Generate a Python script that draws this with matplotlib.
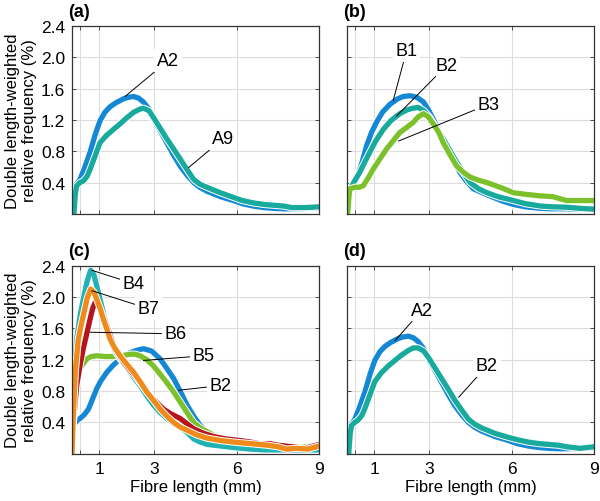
import numpy as np
import matplotlib
matplotlib.use('Agg')
import matplotlib.pyplot as plt
import matplotlib.patheffects as pe

plt.rcParams['font.family'] = ['Liberation Sans', 'DejaVu Sans']

# ---- data (fibre length in mm, frequency in %) ----
a2_x = [0.0, 0.08, 0.17, 0.29, 0.45, 0.66, 0.85, 1.02, 1.2, 1.39, 1.6, 1.87, 2.05, 2.24, 2.42, 2.6, 2.8, 2.97, 3.2, 3.45, 3.7, 3.94, 4.2, 4.43, 4.65, 4.91, 5.4, 5.88, 6.2, 6.6, 7.0, 7.34, 7.7, 8.0, 8.5, 9.0]
a2_y = [0.0, 0.30, 0.38, 0.44, 0.58, 0.79, 1.02, 1.19, 1.30, 1.37, 1.42, 1.47, 1.49, 1.50, 1.48, 1.43, 1.34, 1.21, 1.07, 0.91, 0.75, 0.61, 0.49, 0.40, 0.34, 0.29, 0.22, 0.17, 0.13, 0.10, 0.08, 0.07, 0.065, 0.065, 0.07, 0.08]
a9_x = [0.07, 0.12, 0.17, 0.29, 0.41, 0.55, 0.66, 0.85, 1.02, 1.25, 1.51, 1.75, 2.0, 2.25, 2.48, 2.6, 2.8, 2.97, 3.2, 3.45, 3.7, 3.94, 4.2, 4.43, 4.65, 4.91, 5.4, 5.88, 6.2, 6.6, 7.0, 7.34, 7.7, 8.0, 8.5, 9.0]
a9_y = [0.0, 0.25, 0.36, 0.40, 0.42, 0.48, 0.57, 0.75, 0.91, 1.00, 1.08, 1.15, 1.23, 1.30, 1.34, 1.35, 1.32, 1.23, 1.10, 0.96, 0.83, 0.70, 0.56, 0.44, 0.38, 0.34, 0.27, 0.21, 0.17, 0.14, 0.12, 0.11, 0.10, 0.08, 0.08, 0.09]

b1_x = [0.05, 0.11, 0.2, 0.35, 0.55, 0.72, 0.9, 1.08, 1.3, 1.57, 1.85, 2.05, 2.3, 2.55, 2.79, 2.97, 3.15, 3.4, 3.64, 3.9, 4.12, 4.35, 4.61, 5.0, 5.34, 5.7, 6.07, 6.5, 7.05, 7.5, 8.0, 8.5, 9.0]
b1_y = [0.0, 0.27, 0.34, 0.44, 0.65, 0.87, 1.04, 1.17, 1.30, 1.40, 1.47, 1.50, 1.51, 1.49, 1.43, 1.33, 1.21, 1.02, 0.83, 0.67, 0.53, 0.42, 0.32, 0.26, 0.21, 0.16, 0.12, 0.09, 0.07, 0.065, 0.065, 0.06, 0.055]
b2_x = [0.05, 0.11, 0.25, 0.47, 0.65, 0.84, 1.05, 1.33, 1.6, 1.93, 2.2, 2.4, 2.6, 2.8, 3.03, 3.25, 3.51, 3.75, 4.0, 4.25, 4.49, 4.8, 5.1, 5.5, 6.07, 6.5, 7.05, 7.5, 8.0, 8.5, 9.0]
b2_y = [0.0, 0.31, 0.40, 0.53, 0.66, 0.79, 0.93, 1.08, 1.19, 1.28, 1.33, 1.35, 1.36, 1.32, 1.23, 1.10, 0.96, 0.81, 0.66, 0.52, 0.40, 0.32, 0.27, 0.22, 0.17, 0.13, 0.10, 0.09, 0.085, 0.07, 0.06]
b3_x = [0.03, 0.08, 0.11, 0.29, 0.45, 0.6, 0.78, 0.96, 1.2, 1.45, 1.7, 1.93, 2.2, 2.42, 2.6, 2.79, 2.97, 3.15, 3.35, 3.51, 3.75, 4.0, 4.25, 4.49, 4.8, 5.1, 5.58, 6.07, 6.5, 7.04, 7.5, 8.0, 8.5, 9.0]
b3_y = [0.0, 0.22, 0.32, 0.34, 0.34, 0.36, 0.46, 0.57, 0.70, 0.83, 0.94, 1.04, 1.11, 1.17, 1.24, 1.28, 1.24, 1.15, 1.04, 0.91, 0.76, 0.61, 0.53, 0.47, 0.43, 0.40, 0.34, 0.27, 0.25, 0.23, 0.22, 0.17, 0.17, 0.17]

c2_x = [0.0, 0.05, 0.17, 0.29, 0.45, 0.6, 0.75, 0.9, 1.05, 1.27, 1.5, 1.75, 2.05, 2.36, 2.6, 2.9, 3.21, 3.45, 3.7, 3.95, 4.19, 4.43, 4.67, 4.9, 5.16, 5.5, 5.89, 6.4, 6.86, 7.3, 7.8, 8.4, 9.0]
c2_y = [0.0, 0.36, 0.42, 0.45, 0.50, 0.57, 0.70, 0.83, 0.93, 1.04, 1.13, 1.21, 1.28, 1.32, 1.34, 1.31, 1.21, 1.09, 0.96, 0.79, 0.62, 0.48, 0.36, 0.28, 0.23, 0.20, 0.17, 0.15, 0.13, 0.11, 0.09, 0.08, 0.08]
c5_x = [0.0, 0.05, 0.1, 0.17, 0.35, 0.54, 0.7, 0.9, 1.2, 1.51, 1.8, 2.12, 2.3, 2.48, 2.72, 2.97, 3.2, 3.45, 3.7, 3.94, 4.2, 4.43, 4.67, 4.92, 5.25, 5.64, 6.1, 6.6, 7.0, 7.3, 7.8, 8.4, 9.0]
c5_y = [0.0, 0.5, 0.85, 1.0, 1.12, 1.21, 1.24, 1.25, 1.24, 1.24, 1.25, 1.27, 1.27, 1.25, 1.20, 1.12, 1.02, 0.91, 0.79, 0.66, 0.52, 0.40, 0.33, 0.28, 0.22, 0.17, 0.15, 0.13, 0.11, 0.09, 0.09, 0.09, 0.10]
c4_x = [0.0, 0.05, 0.17, 0.29, 0.41, 0.55, 0.68, 0.8, 0.9, 1.02, 1.14, 1.27, 1.39, 1.55, 1.75, 1.95, 2.12, 2.3, 2.48, 2.72, 2.97, 3.2, 3.45, 3.7, 3.94, 4.2, 4.43, 4.67, 4.92, 5.4, 5.88, 6.5, 7.0, 8.0, 9.0]
c4_y = [0.0, 0.7, 1.46, 1.75, 1.97, 2.20, 2.34, 2.28, 2.14, 1.97, 1.80, 1.63, 1.46, 1.32, 1.21, 1.12, 1.04, 0.95, 0.87, 0.74, 0.62, 0.53, 0.45, 0.39, 0.34, 0.27, 0.19, 0.15, 0.12, 0.10, 0.08, 0.06, 0.05, 0.05, 0.05]
c6_x = [0.0, 0.05, 0.17, 0.29, 0.41, 0.55, 0.66, 0.75, 0.84, 0.92, 1.02, 1.14, 1.27, 1.39, 1.51, 1.7, 1.87, 2.1, 2.36, 2.6, 2.85, 3.1, 3.33, 3.6, 3.94, 4.2, 4.43, 4.8, 5.16, 5.6, 6.1, 6.5, 6.8, 7.2, 7.5, 8.0, 8.5, 9.0]
c6_y = [0.0, 0.4, 0.87, 1.12, 1.34, 1.55, 1.72, 1.85, 1.93, 1.92, 1.85, 1.75, 1.63, 1.51, 1.38, 1.27, 1.17, 1.07, 0.96, 0.85, 0.74, 0.65, 0.57, 0.51, 0.45, 0.38, 0.32, 0.26, 0.22, 0.19, 0.17, 0.15, 0.13, 0.13, 0.11, 0.09, 0.07, 0.12]
c7_x = [0.0, 0.05, 0.12, 0.23, 0.32, 0.41, 0.55, 0.68, 0.8, 0.9, 1.02, 1.14, 1.27, 1.39, 1.55, 1.75, 2.0, 2.24, 2.48, 2.72, 2.97, 3.21, 3.45, 3.7, 3.94, 4.19, 4.55, 4.92, 5.4, 5.88, 6.5, 7.1, 7.5, 7.8, 8.2, 8.6, 9.0]
c7_y = [0.0, 0.5, 1.05, 1.46, 1.62, 1.76, 1.98, 2.10, 2.06, 1.97, 1.86, 1.72, 1.59, 1.46, 1.35, 1.25, 1.14, 1.04, 0.92, 0.79, 0.68, 0.57, 0.48, 0.40, 0.34, 0.30, 0.24, 0.20, 0.17, 0.15, 0.13, 0.11, 0.09, 0.06, 0.07, 0.06, 0.10]

d_a2_x = a2_x
d_a2_y = a2_y
d_b2_x = [0.07, 0.12, 0.17, 0.29, 0.41, 0.55, 0.66, 0.85, 1.02, 1.25, 1.51, 1.75, 2.0, 2.25, 2.42, 2.6, 2.8, 2.97, 3.2, 3.45, 3.7, 3.94, 4.2, 4.43, 4.65, 4.91, 5.4, 5.88, 6.2, 6.6, 7.0, 7.34, 7.7, 8.0, 8.5, 9.0]
d_b2_y = [0.0, 0.25, 0.36, 0.40, 0.43, 0.49, 0.58, 0.76, 0.92, 1.03, 1.12, 1.19, 1.26, 1.32, 1.35, 1.35, 1.31, 1.23, 1.10, 0.96, 0.82, 0.68, 0.55, 0.44, 0.38, 0.33, 0.26, 0.21, 0.18, 0.15, 0.13, 0.12, 0.11, 0.09, 0.07, 0.09]

x_ticks = [0.3, 1, 3, 6, 9]
x_ticklabels = ['', '1', '3', '6', '9']
y_ticks = [0.4, 0.8, 1.2, 1.6, 2.0, 2.4]
y_ticklabels = ['0.4', '0.8', '1.2', '1.6', '2.0', '2.4']

BLUE = '#1488d4'
TEAL = '#18aa9c'
CYAN = '#22b2b4'
GREEN = '#7cc12b'
RED = '#b5151b'
ORANGE = '#ef8a1c'

fig = plt.figure(figsize=(6, 5.02), dpi=100)
axw, axh = 0.412, 0.374
positions = {'a': [0.12, 0.572, axw, axh], 'b': [0.578, 0.572, axw, axh],
             'c': [0.12, 0.094, axw, 0.375], 'd': [0.578, 0.094, axw, 0.375]}

fx = pe.Stroke(linewidth=5.2, foreground='white')


def setup(ax, label, left, bottom):
    ax.set_xlim(0, 9)
    ax.set_ylim(0, 2.4)
    ax.set_xticks(x_ticks)
    ax.set_yticks(y_ticks)
    ax.set_xticklabels(x_ticklabels if bottom else [''] * 5)
    ax.set_yticklabels(y_ticklabels if left else [''] * 6)
    ax.tick_params(direction='in', top=True, right=True, length=3, width=0.6,
                   labelsize=12.5, color='#333333', pad=5)
    ax.grid(True, color='#dcdcdc', linewidth=0.8)
    ax.set_axisbelow(True)
    for s in ax.spines.values():
        s.set_color('#333333')
        s.set_linewidth(0.9)
    ax.text(-0.015, 1.035, '(' + label + ')', transform=ax.transAxes,
            fontsize=13, fontweight='bold', ha='left', va='bottom')
    if left:
        ax.set_ylabel('Double length-weighted\nrelative frequency (%)', fontsize=12,
                      labelpad=3, linespacing=1.15)
    if bottom:
        ax.set_xlabel('Fibre length (mm)', fontsize=12, labelpad=2)


def curve(ax, x, y, c):
    ax.plot(x, y, color=c, lw=3.8, solid_capstyle='round', solid_joinstyle='round',
            path_effects=[fx, pe.Normal()])


def tag(ax, txt, xy, xytext):
    ax.annotate(txt, xy=xy, xytext=xytext, fontsize=13, ha='center', va='center',
                bbox=dict(boxstyle='square,pad=0.15', fc='white', ec='none'),
                arrowprops=dict(arrowstyle='-', color='black', lw=0.7, shrinkA=0, shrinkB=0))


ax = fig.add_axes(positions['a'])
setup(ax, 'a', True, False)
curve(ax, a2_x, a2_y, BLUE)
curve(ax, a9_x, a9_y, TEAL)
tag(ax, 'A2', (1.93, 1.50), (3.5, 1.96))
tag(ax, 'A9', (4.24, 0.59), (5.5, 0.96))

ax = fig.add_axes(positions['b'])
setup(ax, 'b', False, False)
curve(ax, b1_x, b1_y, BLUE)
curve(ax, b2_x, b2_y, TEAL)
curve(ax, b3_x, b3_y, GREEN)
tag(ax, 'B1', (1.69, 1.45), (2.18, 2.09))
tag(ax, 'B2', (1.81, 1.25), (3.64, 1.90))
tag(ax, 'B3', (1.88, 0.93), (5.16, 1.40))

ax = fig.add_axes(positions['c'])
setup(ax, 'c', True, True)
curve(ax, c2_x, c2_y, BLUE)
curve(ax, c5_x, c5_y, GREEN)
curve(ax, c4_x, c4_y, CYAN)
curve(ax, c6_x, c6_y, RED)
curve(ax, c7_x, c7_y, ORANGE)
tag(ax, 'B4', (0.72, 2.34), (2.24, 2.17))
tag(ax, 'B7', (0.72, 2.08), (2.79, 1.85))
tag(ax, 'B6', (0.66, 1.55), (3.76, 1.53))
tag(ax, 'B5', (2.6, 1.19), (4.79, 1.25))
tag(ax, 'B2', (3.88, 0.81), (5.4, 0.87))

ax = fig.add_axes(positions['d'])
setup(ax, 'd', False, True)
curve(ax, d_a2_x, d_a2_y, BLUE)
curve(ax, d_b2_x, d_b2_y, TEAL)
tag(ax, 'A2', (1.75, 1.44), (2.73, 1.83))
tag(ax, 'B2', (4.07, 0.72), (5.1, 1.12))

fig.savefig('out.png', dpi=100)
